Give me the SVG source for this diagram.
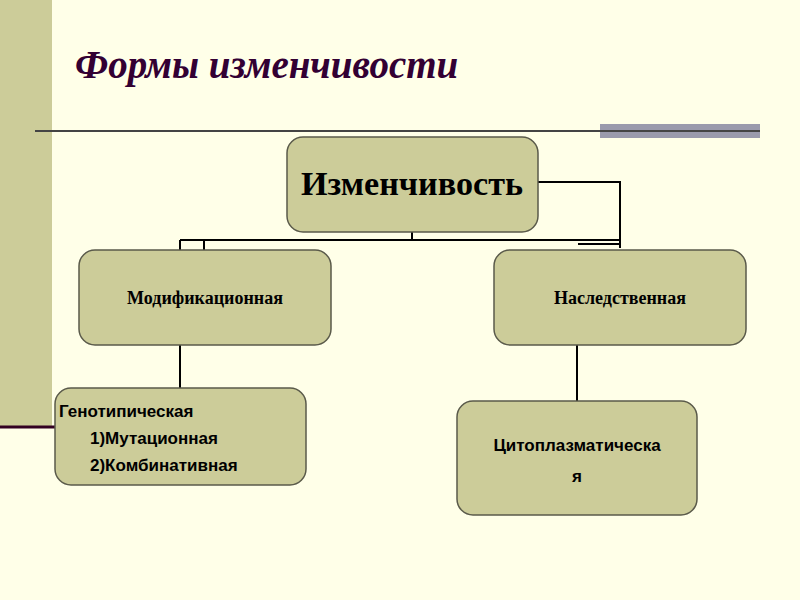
<svg xmlns="http://www.w3.org/2000/svg" width="800" height="600" viewBox="0 0 800 600">
<style>
.box{fill:#cccc99;stroke:#5a5a4a;stroke-width:1.5}
.s{font-family:"Liberation Sans",Arial,sans-serif;font-weight:bold;font-size:17px;fill:#000}
.c{fill:none;stroke:#000;stroke-width:2}
</style>
<rect width="800" height="600" fill="#ffffe8"/>
<rect x="0" y="0" width="52" height="426" fill="#cccc99"/>
<line x1="0" y1="427" x2="56" y2="427" stroke="#330022" stroke-width="3"/>
<text x="75" y="78" font-family="'Liberation Serif',serif" font-weight="bold" font-style="italic" font-size="39" fill="#330033">Формы изменчивости</text>
<rect x="600" y="124" width="160" height="14" fill="#9a9aac"/>
<line x1="35" y1="131" x2="760" y2="131" stroke="#444" stroke-width="2"/>
<g id="connectors">
<path class="c" d="M412 232V240M180 240H620M538 182H620V248M180 240V250M204 240V250M578 244H620M180 345V390M577 345V402"/>
</g>
<g id="n-top"><rect class="box" x="287" y="137" width="251" height="95" rx="16"/>
<text x="412" y="195" text-anchor="middle" font-family="'Liberation Serif',serif" font-weight="bold" font-size="33" textLength="222" lengthAdjust="spacingAndGlyphs">Изменчивость</text></g>
<g id="n-mod"><rect class="box" x="79" y="250" width="252" height="95" rx="16"/>
<text x="205" y="304" text-anchor="middle" font-family="'Liberation Serif',serif" font-weight="bold" font-size="18">Модификационная</text></g>
<g id="n-nasl"><rect class="box" x="494" y="250" width="252" height="95" rx="16"/>
<text x="620" y="304" text-anchor="middle" font-family="'Liberation Serif',serif" font-weight="bold" font-size="18">Наследственная</text></g>
<g id="n-gen"><rect class="box" x="55" y="388" width="251" height="97" rx="16"/>
<text class="s" x="59" y="417">Генотипическая</text>
<text class="s" x="90" y="444">1)Мутационная</text>
<text class="s" x="90" y="471">2)Комбинативная</text></g>
<g id="n-cyto"><rect class="box" x="457" y="401" width="240" height="114" rx="16"/>
<text class="s" x="577" y="451" text-anchor="middle">Цитоплазматическа</text>
<text class="s" x="577" y="482" text-anchor="middle">я</text></g>
</svg>
